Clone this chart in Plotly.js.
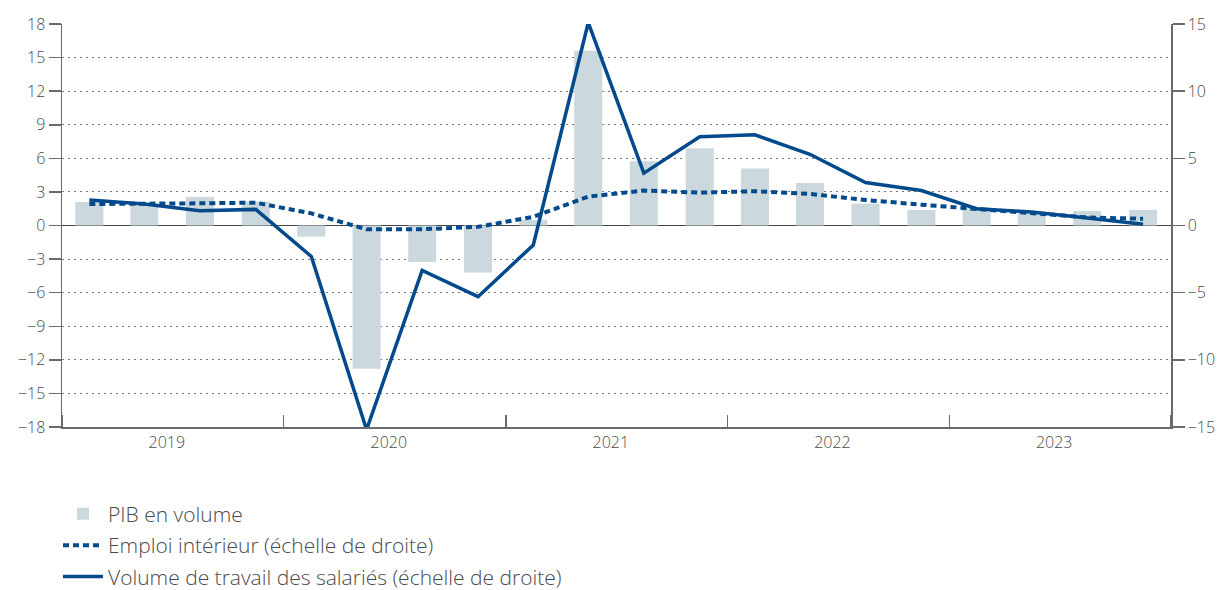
<!DOCTYPE html>
<html>
<head>
<meta charset="utf-8">
<script src="https://cdn.plot.ly/plotly-3.0.1.min.js"></script>
<style>html,body{margin:0;padding:0;background:#fff;}#chart{width:1222px;height:590px;}</style>
</head>
<body>
<div id="chart"></div>
<script>
// Quarters (start date of each quarter), 2019 Q1 - 2023 Q4
const quarters = [
  '2019-01-01','2019-04-01','2019-07-01','2019-10-01',
  '2020-01-01','2020-04-01','2020-07-01','2020-10-01',
  '2021-01-01','2021-04-01','2021-07-01','2021-10-01',
  '2022-01-01','2022-04-01','2022-07-01','2022-10-01',
  '2023-01-01','2023-04-01','2023-07-01','2023-10-01'
];
// PIB en volume (left scale)
const pib = [2.1, 2.0, 2.55, 2.15, -1.0, -12.8, -3.25, -4.2, 0.5, 15.6,
             5.75, 6.9, 5.1, 3.8, 1.95, 1.4, 1.6, 1.25, 1.3, 1.4];
// Emploi intérieur (right scale)
const emploi = [1.6, 1.6, 1.65, 1.7, 0.9, -0.28, -0.28, -0.1, 0.65, 2.15,
                2.6, 2.45, 2.55, 2.35, 1.9, 1.55, 1.25, 0.95, 0.6, 0.5];
// Volume de travail des salariés (right scale)
const travail = [1.9, 1.6, 1.1, 1.2, -2.3, -15.2, -3.35, -5.3, -1.45, 15.1,
                 3.9, 6.6, 6.75, 5.3, 3.2, 2.6, 1.25, 1.0, 0.55, 0.1];
const leftTicks = [-18,-15,-12,-9,-6,-3,0,3,6,9,12,15,18];
const rightTicks = [-15,-10,-5,0,5,10,15];
const names = ['PIB en volume', 'Emploi intérieur (échelle de droite)', 'Volume de travail des salariés (échelle de droite)'];

const BLUE = '#034a8c';
const TXT = '#4a4a4a';
const AX = '#6a6a6a';

const traces = [
  {type:'bar', x: quarters, y: pib, name: names[0], xperiod:'M3', xperiodalignment:'middle',
   marker:{color:'#cbd8de'}, yaxis:'y', legendgroup:'a'},
  {type:'scatter', mode:'lines', x: quarters, y: emploi, name: names[1], xperiod:'M3', xperiodalignment:'middle',
   line:{color:BLUE, width:4, dash:'6px,4px'}, yaxis:'y2', legendgroup:'b'},
  {type:'scatter', mode:'lines', x: quarters, y: travail, name: names[2], xperiod:'M3', xperiodalignment:'middle',
   line:{color:BLUE, width:3.5}, yaxis:'y2', legendgroup:'c'}
];

const layout = {
  width:1222, height:590,
  margin:{l:62, r:51, t:24, b:163, autoexpand:false},
  paper_bgcolor:'#fff', plot_bgcolor:'#fff',
  font:{family:'"Open Sans", sans-serif', color:TXT, size:16, weight:300},
  bargap:0.49,
  showlegend:true,
  legend:{orientation:'v', x:-0.0036, xanchor:'left', y:-0.1655, yanchor:'top',
          font:{size:21, color:TXT, weight:300}, tracegroupgap:1, itemwidth:40,
          bgcolor:'rgba(0,0,0,0)', traceorder:'grouped'},
  xaxis:{type:'date', range:['2019-01-01','2024-01-01'], tick0:'2019-01-01', dtick:'M12',
         tickformat:'%Y', ticklabelmode:'period', ticklabelshift:-6,
         ticks:'inside', ticklen:12, tickwidth:1.5, tickcolor:AX,
         showline:true, linecolor:AX, linewidth:1.5, showgrid:false, zeroline:false,
         tickfont:{size:16, color:TXT, weight:300}, fixedrange:true},
  yaxis:{range:[-18,18], tickvals:leftTicks, ticks:'outside', ticklen:12, tickwidth:1.5, tickcolor:AX,
         showline:true, linecolor:AX, linewidth:1.5,
         showgrid:true, gridcolor:'#777', gridwidth:1, griddash:'1.5px,4.5px',
         zeroline:true, zerolinecolor:'#444', zerolinewidth:1.5,
         tickfont:{size:16, color:TXT, weight:300}, fixedrange:true},
  yaxis2:{range:[-15,15], tickvals:rightTicks, overlaying:'y', side:'right', anchor:'x',
          ticks:'outside', ticklen:12, tickwidth:1.5, tickcolor:AX,
          showline:true, linecolor:AX, linewidth:1.5, showgrid:false, zeroline:false,
          tickfont:{size:16, color:TXT, weight:300}, fixedrange:true}
};

Plotly.newPlot('chart', traces, layout, {displayModeBar:false, staticPlot:true});
</script>
</body>
</html>
